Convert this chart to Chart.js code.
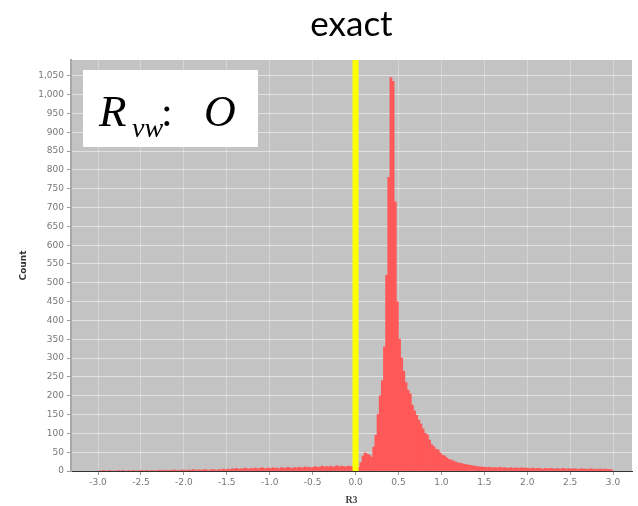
<!doctype html>
<html lang="en">
  <head>
    <meta charset="utf-8">
    <title>exact</title>
    <script src="https://cdn.jsdelivr.net/npm/chart.js"></script>
    <style>
      html, body { margin: 0; padding: 0; background: #fff; }
      #wrap { width: 638px; height: 506px; }
    </style>
  </head>
  <body>
    <div id="wrap"><canvas id="histChart"></canvas></div>

    <script type="text/javascript">
        // histogram of R3, bins of 0.025 starting at -3.0
        var binStart = -3.0;
        var binWidth = 0.025;
        var counts = [
            // -3.0 .. -2.2
            0,0,1,0,0,1,0,0,0,1,0,1,0,0,1,0,1,0,0,1,1,0,1,0,1,1,0,1,2,1,1,2,
            // -2.2 .. -1.5
            2,1,2,3,2,1,2,3,2,2,3,2,4,2,3,3,2,4,3,2,3,4,3,2,4,3,5,3,
            // -1.5 .. -0.5
            5,4,6,5,7,4,6,5,8,6,5,7,6,8,5,7,9,6,7,8,6,9,7,8,6,9,8,7,10,8,7,9,8,10,9,8,11,9,10,8,
            // -0.5 .. 0.0
            10,12,9,11,13,10,12,11,13,10,12,14,11,13,12,10,13,12,11,14,
            // 0.0 .. 1.5
            8,10,22,40,48,45,42,37,64,95,150,200,240,330,520,780,1045,1035,715,450,
            350,300,265,235,215,205,175,160,148,135,125,112,100,96,82,70,65,58,56,48,
            42,40,35,31,29,27,24,22,21,20,18,17,16,15,14,13,12,11,11,10,
            // 1.5 .. 2.0
            10,9,10,8,9,9,8,10,8,9,7,8,9,7,8,8,7,9,7,8,
            // 2.0 .. 3.0
            7,6,8,6,7,7,6,5,7,6,6,7,5,6,6,5,7,6,5,6,5,6,6,4,5,6,5,5,4,6,5,5,4,5,5,4,5,4,4,3
        ];
        var xTicks = [-3.0, -2.5, -2.0, -1.5, -1.0, -0.5, 0.0, 0.5, 1.0, 1.5, 2.0, 2.5, 3.0];
        var yTicks = [0, 50, 100, 150, 200, 250, 300, 350, 400, 450, 500, 550, 600, 650,
                      700, 750, 800, 850, 900, 950, 1000, 1050];
        var markerValue = 0.0;

        var points = counts.map(function (c, i) {
            return { x: binStart + binWidth * (i + 0.5), y: c };
        });

        var plotBg = {
            id: 'plotBg',
            beforeDraw: function (chart) {
                var a = chart.chartArea, ctx = chart.ctx;
                ctx.save();
                ctx.fillStyle = '#c3c3c3';
                ctx.fillRect(a.left, a.top, a.right - a.left, a.bottom - a.top);
                ctx.restore();
            }
        };

        var overlay = {
            id: 'overlay',
            afterDatasetsDraw: function (chart) {
                var a = chart.chartArea, ctx = chart.ctx;
                var x0 = chart.scales.x.getPixelForValue(markerValue);
                ctx.save();
                ctx.fillStyle = '#ffff00';
                ctx.fillRect(x0 - 3, a.top, 6, a.bottom - a.top);

                // label box
                ctx.fillStyle = '#ffffff';
                ctx.fillRect(83, 70, 175, 77);
                ctx.fillStyle = '#000';
                ctx.textBaseline = 'alphabetic';
                ctx.font = 'italic 45px "Liberation Serif"';
                ctx.fillText('R', 99, 126);
                ctx.font = 'italic 28px "Liberation Serif"';
                ctx.fillText('vw', 132, 137);
                ctx.font = '42px "Liberation Serif"';
                ctx.fillText(':', 161, 126);
                ctx.font = 'italic 44px "Liberation Serif"';
                ctx.fillText('O', 204, 126);
                ctx.restore();
            }
        };

        var ctx = document.getElementById('histChart').getContext('2d');
        var chart = new Chart(ctx, {
            type: 'bar',
            data: {
                datasets: [{
                    label: 'Count',
                    data: points,
                    backgroundColor: '#ff5858',
                    borderWidth: 0,
                    barPercentage: 1.0,
                    categoryPercentage: 1.0
                }]
            },
            plugins: [plotBg, overlay],
            options: {
                responsive: true,
                maintainAspectRatio: false,
                animation: false,
                layout: { padding: { left: 0, right: 6, top: 0, bottom: 0 } },
                plugins: {
                    legend: { display: false },
                    tooltip: { enabled: false },
                    title: {
                        display: true,
                        text: 'exact',
                        fullSize: false,
                        color: '#000',
                        font: { family: 'Lato', size: 35, weight: 'normal' },
                        padding: { top: 4, bottom: 14 }
                    }
                },
                scales: {
                    x: {
                        type: 'linear',
                        offset: false,
                        min: -3.315,
                        max: 3.221,
                        afterFit: function (s) { s.height = 35; },
                        afterBuildTicks: function (s) {
                            s.ticks = xTicks.map(function (v) { return { value: v }; });
                        },
                        ticks: {
                            color: '#777',
                            font: { family: 'DejaVu Sans', size: 9 },
                            padding: 2,
                            maxRotation: 0,
                            autoSkip: false,
                            callback: function (v) { return Number(v).toFixed(1); }
                        },
                        grid: {
                            offset: false,
                            color: 'rgba(255,255,255,0.3)',
                            tickColor: '#999',
                            tickLength: 4
                        },
                        border: { color: '#333', width: 1 },
                        title: {
                            display: true,
                            text: 'R3',
                            color: '#444',
                            font: { family: 'Liberation Serif', size: 10, weight: 'bold' },
                            padding: { top: 2, bottom: 0 }
                        }
                    },
                    y: {
                        min: 0,
                        max: 1092,
                        afterFit: function (s) { s.width = 71; },
                        afterBuildTicks: function (s) {
                            s.ticks = yTicks.map(function (v) { return { value: v }; });
                        },
                        ticks: {
                            color: '#777',
                            font: { family: 'DejaVu Sans', size: 9 },
                            padding: 3,
                            autoSkip: false,
                            callback: function (v) { return Number(v).toLocaleString('en-US'); }
                        },
                        grid: {
                            color: 'rgba(255,255,255,0.5)',
                            tickColor: '#999',
                            tickLength: 4
                        },
                        border: { color: '#a8a8a8', width: 2 },
                        title: {
                            display: true,
                            text: 'Count',
                            color: '#333',
                            font: { family: 'DejaVu Sans', size: 9, weight: 'bold' },
                            padding: { top: 18, bottom: 0 }
                        }
                    }
                }
            }
        });
    </script>
  </body>
</html>
